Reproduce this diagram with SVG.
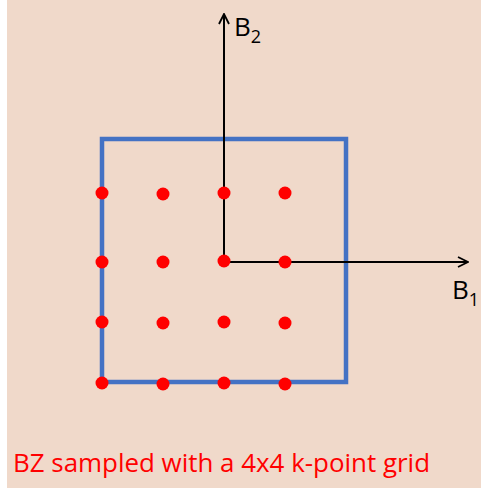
<svg xmlns="http://www.w3.org/2000/svg" width="481" height="489" viewBox="0 0 481 489">
<style>
.lbl{font-family:"Open Sans","Liberation Sans",sans-serif;fill:#000;}
.dot{fill:#ff0000;}
.axis{stroke:#000;stroke-width:2;fill:none;}
</style>
<defs>
<marker id="arr" viewBox="0 0 12 12" refX="11" refY="6" markerWidth="12" markerHeight="12" markerUnits="userSpaceOnUse" orient="auto">
<path d="M1,1 L11,6 L1,11" fill="none" stroke="#000" stroke-width="1.8"/>
</marker>
</defs>
<rect x="0" y="0" width="481" height="489" fill="#ffffff"/>
<rect x="7" y="0" width="474" height="488" fill="#f0d9ca"/>
<g id="bz">
<rect x="102" y="139" width="244" height="243" fill="none" stroke="#4472c4" stroke-width="4.5"/>
</g>
<g id="connectors">
<line class="axis" x1="224" y1="262" x2="224" y2="14" marker-end="url(#arr)"/>
<line class="axis" x1="224" y1="262" x2="468" y2="262" marker-end="url(#arr)"/>
</g>
<g id="points">
<circle class="dot" cx="102" cy="193" r="6.5"/>
<circle class="dot" cx="163" cy="194" r="6.5"/>
<circle class="dot" cx="224" cy="193" r="6.5"/>
<circle class="dot" cx="285" cy="193" r="6.5"/>
<circle class="dot" cx="102" cy="262" r="6.5"/>
<circle class="dot" cx="163" cy="262" r="6.5"/>
<circle class="dot" cx="224" cy="261" r="6.5"/>
<circle class="dot" cx="285" cy="262" r="6.5"/>
<circle class="dot" cx="102" cy="322" r="6.5"/>
<circle class="dot" cx="163" cy="323" r="6.5"/>
<circle class="dot" cx="224" cy="322" r="6.5"/>
<circle class="dot" cx="285" cy="323" r="6.5"/>
<circle class="dot" cx="102" cy="383" r="6.5"/>
<circle class="dot" cx="163" cy="384" r="6.5"/>
<circle class="dot" cx="224" cy="383" r="6.5"/>
<circle class="dot" cx="285" cy="384" r="6.5"/>
</g>
<g id="label-b2">
<text class="lbl" x="234" y="36" font-size="26">B<tspan font-size="18" dy="7">2</tspan></text>
</g>
<g id="label-b1">
<text class="lbl" x="452" y="299" font-size="26">B<tspan font-size="18" dy="7">1</tspan></text>
</g>
<g id="caption">
<text x="13" y="472" font-family="'Open Sans','Liberation Sans',sans-serif" font-size="26" fill="#ff0000" textLength="417" lengthAdjust="spacingAndGlyphs">BZ sampled with a 4x4 k-point grid</text>
</g>
</svg>
